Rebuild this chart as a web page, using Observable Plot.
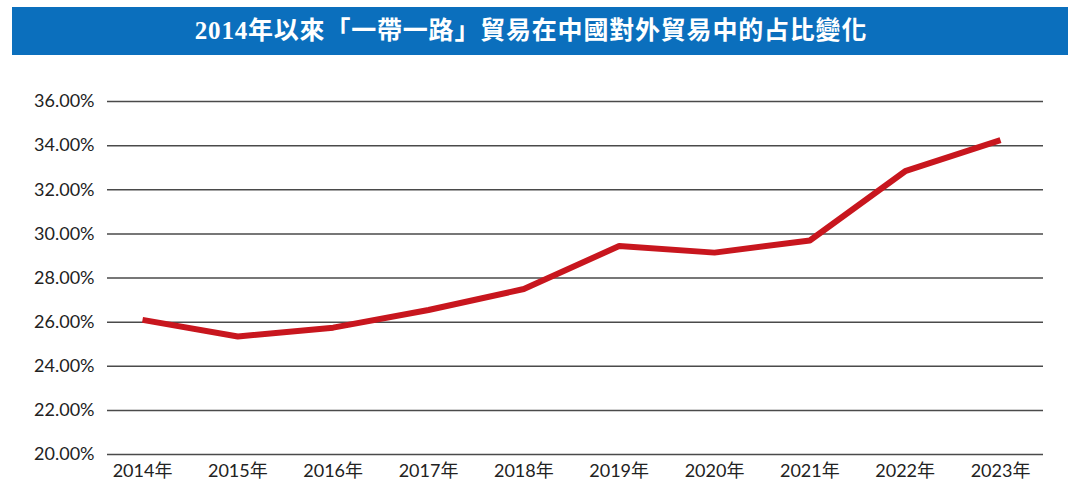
<!DOCTYPE html>
<html>
<head>
<meta charset="utf-8">
<script src="https://cdn.jsdelivr.net/npm/d3@7"></script>
<script src="https://cdn.jsdelivr.net/npm/@observablehq/plot@0.6"></script>
<style>
  html, body { margin: 0; padding: 0; background: #fff; }
  #wrap { width: 1080px; height: 491px; position: relative; overflow: hidden; }
  #title {
    height: 62px; position: relative;
  }
  #title .bar {
    position: absolute; left: 12px; top: 7px; width: 1056px; height: 48px;
    background: #0b6fbd; color: #fff;
    font-family: "Liberation Serif", "Noto Sans CJK TC", serif;
    font-weight: bold; font-size: 25px; line-height: 48px; text-align: center;
    letter-spacing: 0.8px; box-sizing: border-box; padding-right: 18px;
  }
  #chart svg { display: block; }
</style>
</head>
<body>
<div id="wrap">
  <div id="title"><div class="bar">2014年以來「一帶一路」貿易在中國對外貿易中的占比變化</div></div>
  <div id="chart"></div>
</div>
<script>
const years = [2014, 2015, 2016, 2017, 2018, 2019, 2020, 2021, 2022, 2023];
const share = [26.1, 25.35, 25.75, 26.55, 27.5, 29.45, 29.15, 29.7, 32.84, 34.25];
const yTicks = [20, 22, 24, 26, 28, 30, 32, 34, 36];

const data = years.map((y, i) => ({year: y, value: share[i]}));

const chart = Plot.plot({
  width: 1080,
  height: 429,
  marginLeft: 107,
  marginRight: 37,
  marginTop: 39,
  marginBottom: 37,
  style: {fontFamily: "Lato, 'Noto Sans CJK TC', sans-serif", fontSize: "18px", color: "#222", background: "#fff"},
  x: {domain: [2014, 2023], insetLeft: 35, insetRight: 43, ticks: years, tickFormat: d => d + "年", tickSize: 0, tickPadding: 10, label: null},
  y: {domain: [20, 36], ticks: yTicks, tickFormat: d => d.toFixed(2) + "%", tickSize: 0, tickPadding: 13, label: null},
  marks: [
    Plot.ruleY(yTicks, {stroke: "#4a4a4a", strokeWidth: 1.5}),
    Plot.line(data, {x: "year", y: "value", stroke: "#c8161e", strokeWidth: 6, strokeLinejoin: "miter", strokeLinecap: "butt"})
  ]
});
document.getElementById("chart").appendChild(chart);
</script>
</body>
</html>
